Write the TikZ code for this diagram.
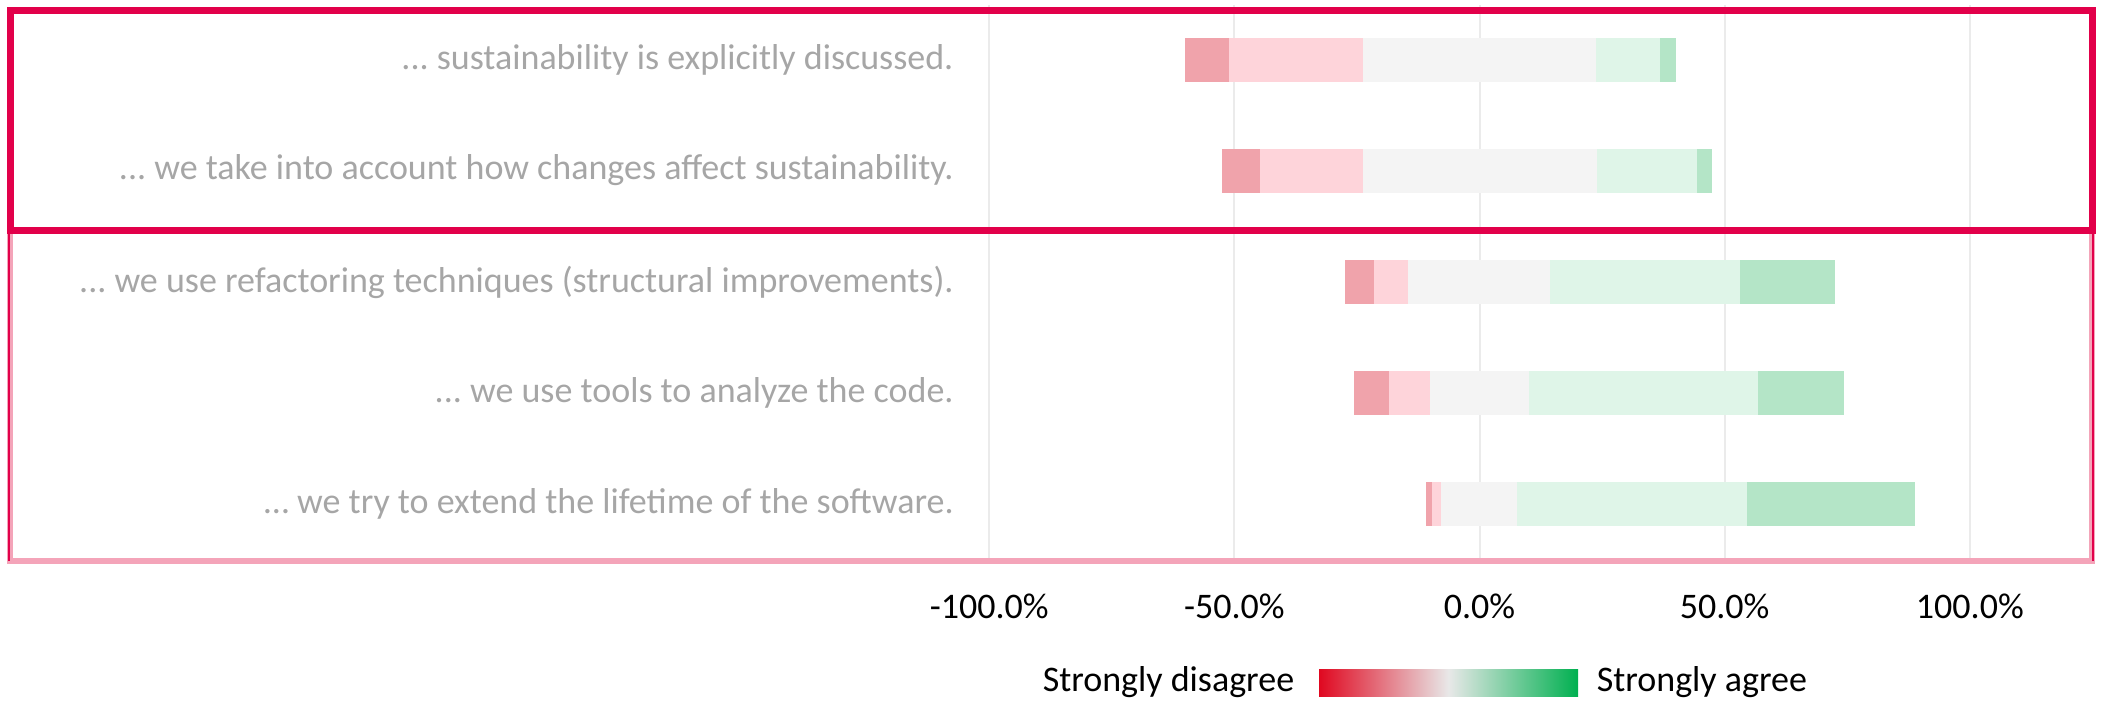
\documentclass[tikz,border=0pt]{standalone}
\usepackage{fontspec}
\setmainfont{Carlito}
\usepackage{tikz}
\usetikzlibrary{calc}
\usetikzlibrary{positioning}

\definecolor{labelgray}{RGB}{166,166,166}
\definecolor{gridgray}{RGB}{235,235,235}
\definecolor{boxred}{RGB}{226,0,74}
\definecolor{boxpink}{RGB}{244,164,185}
\definecolor{sdis}{RGB}{240,163,171}
\definecolor{dis}{RGB}{254,212,218}
\definecolor{neu}{RGB}{244,244,244}
\definecolor{agr}{RGB}{223,245,232}
\definecolor{sagr}{RGB}{180,229,199}
\definecolor{legred}{RGB}{224,8,32}
\definecolor{legmid}{RGB}{232,232,232}
\definecolor{leggreen}{RGB}{0,176,80}

\begin{document}
\frenchspacing
\begin{tikzpicture}[x=0.5pt, y=-0.5pt,
    barlabel/.style={anchor=east, inner sep=0pt, text=labelgray, font=\fontsize{18}{22}\selectfont},
    ticklabel/.style={inner sep=0pt, text=black, font=\fontsize{18}{22}\selectfont},
    legendtext/.style={inner sep=0pt, text=black, font=\fontsize{18}{22}\selectfont},
    legendbar/.style={rectangle, inner sep=0pt, minimum width=129.5pt, minimum height=13.5pt,
        left color=legred, right color=leggreen, middle color=legmid},
    gridline/.style={draw=gridgray, line width=1pt},
    redbox/.style={draw=boxred, line width=3.5pt},
    pinkbox/.style={draw=boxpink, line width=3pt}]
        \useasboundingbox (0,0) rectangle (2103,703);

        \begin{scope}[shift={(1479.5,0)}, xscale=4.903]
            \foreach \g in {-100,-50,...,100}
                \draw[gridline] (\g,5) -- (\g,563);
            \foreach \yc/\a/\b/\c/\d/\e/\f in {59.5/-60/-51/-23.7/23.8/36.8/40,
                    170.5/-52.5/-44.7/-23.8/24/44.3/47.5,
                    282/-27.4/-21.5/-14.5/14.3/53.2/72.6,
                    393/-25.7/-18.5/-10.2/10/56.8/74.3,
                    504/-11/-9.75/-7.9/7.7/54.5/88.8} {
                \fill[sdis] (\a,\yc-22) rectangle (\b,\yc+22);
                \fill[dis] (\b,\yc-22) rectangle (\c,\yc+22);
                \fill[neu] (\c,\yc-22) rectangle (\d,\yc+22);
                \fill[agr] (\d,\yc-22) rectangle (\e,\yc+22);
                \fill[sagr] (\e,\yc-22) rectangle (\f,\yc+22);
            }
            \foreach \g/\lab [count=\i] in {-100/-100.0\%, -50/-50.0\%, 0/0.0\%, 50/50.0\%, 100/100.0\%}
                \node[ticklabel] (tick\i) at (\g,606) {\lab};
        \end{scope}

        \draw[pinkbox] (10,230) rectangle (2092,561);
        \draw[boxred, line width=0.75pt] (9,230) -- (9,561);
        \draw[boxred, line width=0.75pt] (2093,230) -- (2093,561);
        \draw[redbox] (10,10) rectangle (2092,230);

        \node[barlabel] (label1) at (954,59.5) {... sustainability is explicitly discussed.};
        \node[barlabel] (label2) at (954,170.5) {... we take into account how changes affect sustainability.};
        \node[barlabel] (label3) at (954,282) {... we use refactoring techniques (structural improvements).};
        \node[barlabel] (label4) at (954,393) {... we use tools to analyze the code.};
        \node[barlabel] (label5) at (954,504) {… we try to extend the lifetime of the software.};

        \node[legendbar] (legbar) at (1448.5,682.5) {};
        \node[legendtext] (legleft) [left=12pt of legbar] {Strongly disagree};
        \node[legendtext] (legright) [right=9pt of legbar] {Strongly agree};
    \end{tikzpicture}
\end{document}
